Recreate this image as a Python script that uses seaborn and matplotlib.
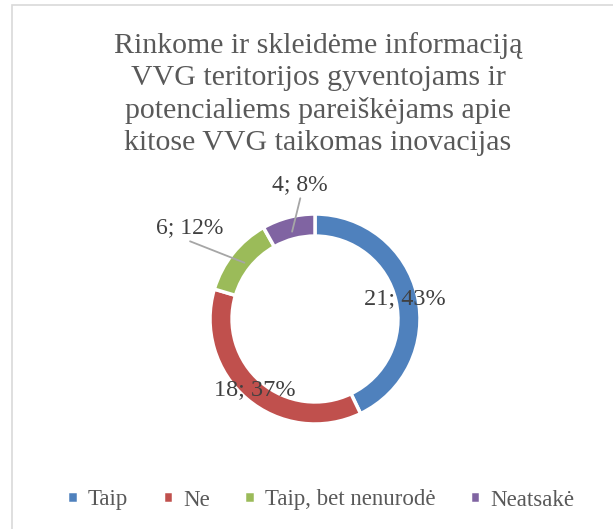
import matplotlib.pyplot as plt
import matplotlib.patches as mpatches
import seaborn as sns
import numpy as np

categories = ["Taip", "Ne", "Taip, bet nenurodė", "Neatsakė"]
counts = [21, 18, 6, 4]
percents = [43, 37, 12, 8]
title = ("Rinkome ir skleidėme informaciją\nVVG teritorijos gyventojams ir\n"
         "potencialiems pareiškėjams apie\nkitose VVG taikomas inovacijas")

sns.set_theme(style="white")
serif = ["Liberation Serif", "DejaVu Serif"]
plt.rcParams["font.family"] = serif
colors = ["#4F81BD", "#C0504D", "#9BBB59", "#8064A2"]
txt = "#595959"

W, H = 613, 529
fig = plt.figure(figsize=(W / 100, H / 100), dpi=100)
fig.patch.set_facecolor("white")

# outer frame
fig.patches.append(mpatches.Rectangle((12 / W, -0.05), 1.2, 1 - 5 / H + 0.05,
                                      transform=fig.transFigure, fill=False,
                                      edgecolor="#D9D9D9", linewidth=1.2))

cx, cy, r = 315, H - 319, 105
ax = fig.add_axes([(cx - r) / W, (cy - r) / H, 2 * r / W, 2 * r / H])
wedges, _ = ax.pie(counts, colors=colors, startangle=90, counterclock=False,
                   radius=1.0, wedgeprops=dict(width=0.21, edgecolor="white", linewidth=2.5))
ax.set_xlim(-1, 1)
ax.set_ylim(-1, 1)
ax.set_aspect("equal")
ax.axis("off")

labels = [f"{c}; {p}%" for c, p in zip(counts, percents)]
# small slices get outside labels with a leader line
outside = {2: ((-1.19, 0.87), (-1.19, 0.74)), 3: ((-0.14, 1.28), (-0.14, 1.15))}
for i, w in enumerate(wedges):
    mid = np.deg2rad((w.theta1 + w.theta2) / 2)
    if i in outside:
        (tx, ty), (lx, ly) = outside[i]
        ax.text(tx, ty, labels[i], ha="center", va="center", fontsize=17, color="#404040")
        ax.plot([lx, 0.86 * np.cos(mid)], [ly, 0.86 * np.sin(mid)], color="#A6A6A6",
                lw=1.3, clip_on=False)
    else:
        d = 0.88
        ax.text(d * np.cos(mid), d * np.sin(mid), labels[i], ha="center", va="center",
                fontsize=17.5, color="#404040")

fig.text(318 / W, 1 - 94 / H, title, ha="center", va="center", fontsize=21.5,
         color=txt, linespacing=1.3)

leg = fig.legend(wedges, categories, loc="center", bbox_to_anchor=(321 / W, 1 - 500 / H),
                 ncol=4, frameon=False, fontsize=16.5, labelcolor=txt,
                 handlelength=0.45, handleheight=0.45, handletextpad=0.45, columnspacing=1.5)
for t in leg.get_texts():
    t.set_fontfamily(serif)

plt.savefig("out.png", dpi=100)
